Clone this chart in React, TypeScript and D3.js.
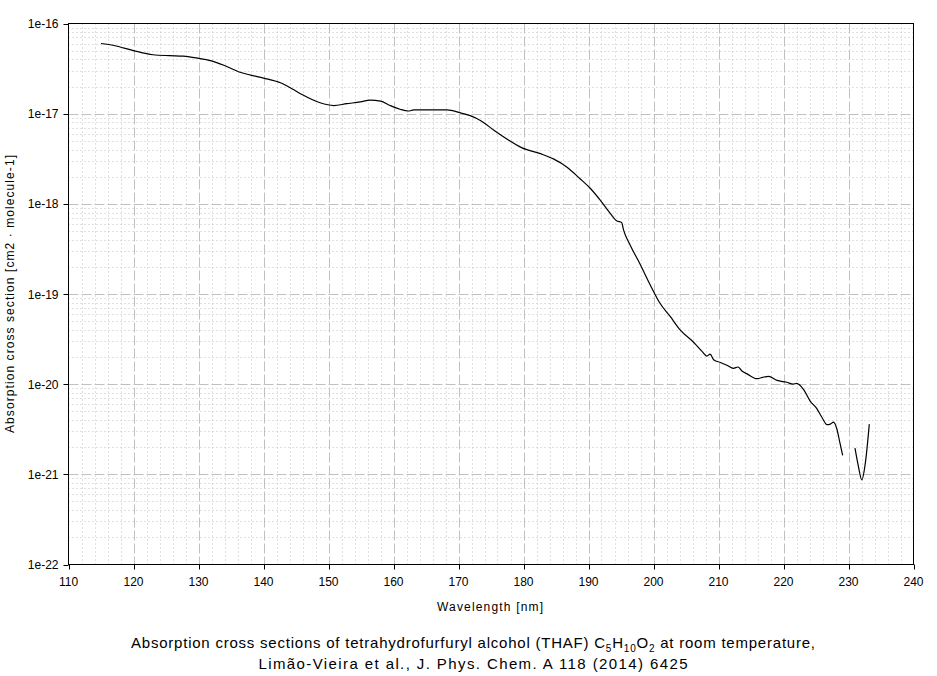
import React from "react";
import * as d3 from "d3";

const wavelengths: (number | null)[] = [
  115.0, 117.0, 120.0, 123.0, 125.5, 127.7, 129.7, 132.0, 134.0, 136.4, 138.0, 140.0, 142.6, 144.6, 146.0,
  148.7, 150.8, 152.8, 154.9, 156.4, 158.0, 159.5, 161.0, 162.3, 163.1, 168.2, 170.3, 171.8, 173.5, 175.5,
  177.5, 179.7, 182.6, 184.6, 186.7, 188.7, 190.3, 191.8, 193.2, 194.3, 195.1, 195.4, 196.4, 198.0, 199.5,
  201.0, 202.6, 204.1, 206.2, 207.5, 208.2, 208.7, 209.3, 210.3, 211.3, 212.3, 213.0, 213.6, 214.4, 215.9,
  217.0, 217.7, 219.0, 220.5, 221.5, 222.0, 223.1, 224.1, 225.1, 225.9, 226.7, 227.2, 227.7, 228.2, 228.7,
  229.1, null, 231.0, 231.5, 232.05, 232.6, 233.2,
];

const crossSections: (number | null)[] = [
  6.0e-17, 5.7e-17, 5.0e-17, 4.5e-17, 4.4e-17, 4.35e-17, 4.15e-17, 3.85e-17, 3.42e-17, 2.88e-17, 2.68e-17, 2.48e-17, 2.2e-17, 1.85e-17, 1.62e-17,
  1.32e-17, 1.23e-17, 1.29e-17, 1.35e-17, 1.41e-17, 1.38e-17, 1.23e-17, 1.12e-17, 1.07e-17, 1.1e-17, 1.1e-17, 1.02e-17, 9.5e-18, 8.3e-18, 6.5e-18,
  5.2e-18, 4.2e-18, 3.6e-18, 3.15e-18, 2.55e-18, 1.9e-18, 1.48e-18, 1.1e-18, 8.1e-19, 6.5e-19, 6.2e-19, 5.1e-19, 3.5e-19, 2.1e-19, 1.26e-19,
  7.9e-20, 5.6e-20, 4.0e-20, 2.9e-20, 2.3e-20, 2.05e-20, 2.15e-20, 1.85e-20, 1.74e-20, 1.62e-20, 1.5e-20, 1.55e-20, 1.4e-20, 1.3e-20, 1.15e-20,
  1.2e-20, 1.22e-20, 1.1e-20, 1.05e-20, 1.0e-20, 1.02e-20, 8.7e-21, 6.5e-21, 5.4e-21, 4.3e-21, 3.55e-21, 3.6e-21, 3.8e-21, 3.2e-21, 2.2e-21,
  1.62e-21, null, 1.95e-21, 1.25e-21, 8.7e-22, 1.35e-21, 3.6e-21,
];

const xTicks = [110, 120, 130, 140, 150, 160, 170, 180, 190, 200, 210, 220, 230, 240];
const yTicks = [1e-22, 1e-21, 1e-20, 1e-19, 1e-18, 1e-17, 1e-16];
const yTickLabels = ["1e-22", "1e-21", "1e-20", "1e-19", "1e-18", "1e-17", "1e-16"];

const xTitle = "Wavelength [nm]";
const yTitle = "Absorption cross section [cm2 · molecule-1]";
const captionLine2 = "Limão-Vieira et al., J. Phys. Chem. A 118 (2014) 6425";

const W = 937;
const H = 676;
const left = 68.5;
const right = 913.5;
const top = 23.5;
const bottom = 564.5;

export default function App() {
  const x = d3.scaleLinear().domain([110, 240]).range([left, right]);
  const y = d3.scaleLog().domain([1e-22, 1e-16]).range([bottom, top]);

  const minorX: number[] = d3.range(110, 240.001, 2).filter((v) => Math.round(v) % 10 !== 0);
  const minorY: number[] = [];
  for (let e = -22; e < -16; e++) {
    for (let m = 2; m <= 9; m++) minorY.push(m * Math.pow(10, e));
  }

  const pts = wavelengths.map((w, i) => ({ w, s: crossSections[i] }));
  const line = d3
    .line<{ w: number | null; s: number | null }>()
    .defined((d) => d.w !== null && d.s !== null)
    .x((d) => x(d.w as number))
    .y((d) => y(d.s as number))
    .curve(d3.curveMonotoneX);

  const font = "'Liberation Sans', Arial, sans-serif";
  const gridColor = "#c0c0c0";

  return (
    <svg
      width={W}
      height={H}
      style={{ position: "absolute", left: 0, top: 0, background: "#fff" }}
      fontFamily={font}
    >
      <rect x={0} y={0} width={W} height={H} fill="#fff" />
      {/* minor grid */}
      {minorX.map((v) => (
        <line key={"mx" + v} x1={Math.round(x(v)) + 0.5} x2={Math.round(x(v)) + 0.5} y1={top} y2={bottom}
          stroke={gridColor} strokeDasharray="1,3" />
      ))}
      {minorY.map((v, i) => (
        <line key={"my" + i} x1={left} x2={right} y1={Math.round(y(v)) + 0.5} y2={Math.round(y(v)) + 0.5}
          stroke={gridColor} strokeDasharray="1,3" />
      ))}
      {/* major grid */}
      {xTicks.slice(1, -1).map((v) => (
        <line key={"Mx" + v} x1={Math.round(x(v)) + 0.5} x2={Math.round(x(v)) + 0.5} y1={top} y2={bottom}
          stroke={gridColor} strokeDasharray="10,3" />
      ))}
      {yTicks.slice(1, -1).map((v, i) => (
        <line key={"My" + i} x1={left} x2={right} y1={Math.round(y(v)) + 0.5} y2={Math.round(y(v)) + 0.5}
          stroke={gridColor} strokeDasharray="10,3" />
      ))}
      {/* data */}
      <path d={line(pts) || ""} fill="none" stroke="#000" strokeWidth={1.2} />
      {/* frame */}
      <rect x={left} y={top} width={right - left} height={bottom - top} fill="none" stroke="#000" strokeWidth={1} />
      {/* x ticks */}
      {xTicks.map((v) => (
        <g key={"xt" + v}>
          <line x1={Math.round(x(v)) + 0.5} x2={Math.round(x(v)) + 0.5} y1={bottom} y2={bottom + 5} stroke="#000" />
          <text x={x(v)} y={bottom + 21} fontSize={12} textAnchor="middle" fill="#000">{v}</text>
        </g>
      ))}
      {/* y ticks */}
      {yTicks.map((v, i) => (
        <g key={"yt" + i}>
          <line x1={left - 5} x2={left} y1={Math.round(y(v)) + 0.5} y2={Math.round(y(v)) + 0.5} stroke="#000" />
          <text x={left - 10} y={y(v) + 4.5} fontSize={12} textAnchor="end" fill="#000">{yTickLabels[i]}</text>
        </g>
      ))}
      {/* axis titles */}
      <text x={490} y={611} fontSize={12} textAnchor="middle" fill="#000"
        textLength={106} lengthAdjust="spacing">{xTitle}</text>
      <text transform={`translate(14, 294) rotate(-90)`} fontSize={12} textAnchor="middle" fill="#000"
        textLength={278} lengthAdjust="spacing">{yTitle}</text>
      {/* caption */}
      <text x={473} y={648} fontSize={15} textAnchor="middle" fill="#000" textLength={684} lengthAdjust="spacing">
        <tspan>Absorption cross sections of tetrahydrofurfuryl alcohol (THAF) C</tspan>
        <tspan fontSize={10} dy={4}>5</tspan>
        <tspan dy={-4}>H</tspan>
        <tspan fontSize={10} dy={4}>10</tspan>
        <tspan dy={-4}>O</tspan>
        <tspan fontSize={10} dy={4}>2</tspan>
        <tspan dy={-4}> at room temperature,</tspan>
      </text>
      <text x={473} y={669} fontSize={15} textAnchor="middle" fill="#000"
        textLength={429} lengthAdjust="spacing">{captionLine2}</text>
    </svg>
  );
}
